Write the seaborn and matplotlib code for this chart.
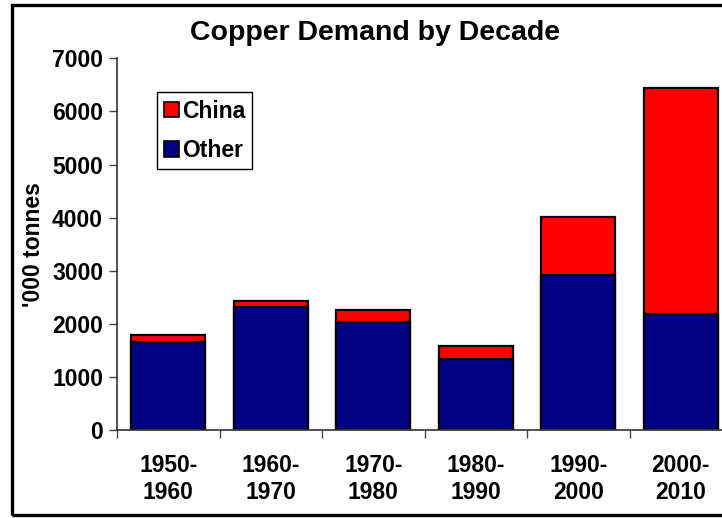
import matplotlib
matplotlib.use("Agg")
import matplotlib.pyplot as plt
import seaborn as sns
import pandas as pd
import numpy as np
from matplotlib.patches import Rectangle, Patch

decades = ["1950-\n1960", "1960-\n1970", "1970-\n1980", "1980-\n1990", "1990-\n2000", "2000-\n2010"]
other = [1656, 2326, 2044, 1347, 2928, 2189]
china = [137, 107, 220, 239, 1086, 4247]
yticks = [0, 1000, 2000, 3000, 4000, 5000, 6000, 7000]

sns.set_theme(style="white")
plt.rcParams['font.family'] = ['Liberation Sans', 'DejaVu Sans']
plt.rcParams['font.weight'] = 'bold'
for k in ['text.color', 'axes.labelcolor', 'xtick.labelcolor', 'ytick.labelcolor']:
    plt.rcParams[k] = 'black'

FS = 16.5

df = pd.DataFrame({"decade": decades, "Other": other, "China": china})
df["Total"] = df["Other"] + df["China"]

fig = plt.figure(figsize=(7.22, 5.18), dpi=100)
ax = fig.add_axes([117/722, 1-430.3/518, (732-117)/722, (430.3-58.3)/518])

sns.barplot(data=df, x="decade", y="Total", color="#FF0000", saturation=1,
            width=0.72, edgecolor="black", linewidth=1.6, ax=ax)
sns.barplot(data=df, x="decade", y="Other", color="#000080", saturation=1,
            width=0.72, edgecolor="black", linewidth=1.6, ax=ax)

ax.set_xlim(-0.5, 5.5)
ax.set_ylim(0, 7000)
ax.set_yticks(yticks)
ax.set_yticklabels([str(v) for v in yticks], fontsize=FS, fontweight='bold', color='black')
ax.set_xticks(range(len(decades)))
ax.set_xticklabels(decades, fontsize=FS, fontweight='bold', color='black', linespacing=1.25)
ax.tick_params(axis='x', length=0, pad=17)
ax.set_xticks(np.arange(-0.5, 6.0, 1.0), minor=True)
ax.tick_params(axis='x', which='minor', length=6, width=1, color='#444444', direction='out', bottom=True)
ax.tick_params(axis='y', length=6, width=1, color='#444444', direction='out', left=True, pad=4)
ax.set_xlabel("")
ax.set_ylabel("'000 tonnes", fontsize=FS, fontweight='bold', color='black')
ax.yaxis.set_label_coords(-0.117, 0.5)
for s in ["top", "right"]:
    ax.spines[s].set_visible(False)
for s in ["left", "bottom"]:
    ax.spines[s].set_color("#333333")
    ax.spines[s].set_linewidth(1.2)

fig.text(375/722, 1-33/518, "Copper Demand by Decade", ha='center', va='center',
         fontsize=20.5, fontweight='bold', color='black')

handles = [Patch(facecolor="#FF0000", edgecolor="black", linewidth=1.2, label="China"),
           Patch(facecolor="#000080", edgecolor="black", linewidth=1.2, label="Other")]
leg = fig.legend(handles=handles, loc='upper left', bbox_to_anchor=(156.7/722, 1-92.3/518),
                 bbox_transform=fig.transFigure, fontsize=FS, frameon=True, fancybox=False,
                 edgecolor='black', framealpha=1, handlelength=0.65, handleheight=0.65,
                 handletextpad=0.12, labelspacing=0.72, borderpad=0.32, borderaxespad=0)
leg.get_frame().set_linewidth(1.0)
for t in leg.get_texts():
    t.set_fontweight('bold')
    t.set_color('black')

fig.patches.append(Rectangle((11.5/722, 1-514.5/518), 1.2, (514.5-4.5)/518, transform=fig.transFigure,
                             fill=False, edgecolor='black', linewidth=2.4, clip_on=False))

fig.savefig("out.png", dpi=100)
